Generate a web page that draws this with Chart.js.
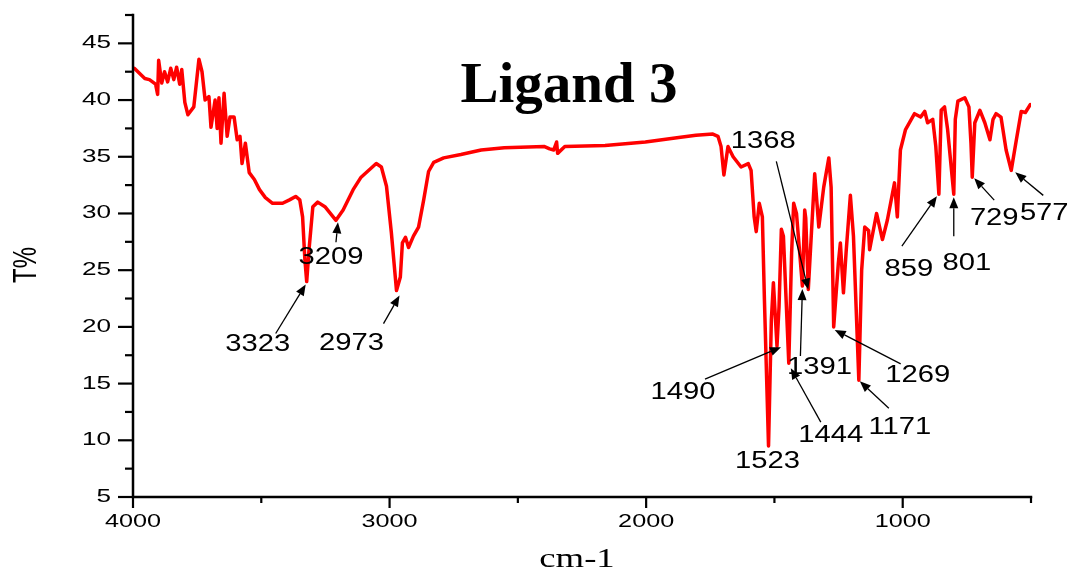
<!DOCTYPE html>
<html lang="en">

<head>
  <meta charset="UTF-8" />
  <title>Ligand 3 IR</title>
  <script src="https://cdn.jsdelivr.net/npm/chart.js@4.4.0/dist/chart.umd.min.js"></script>
  <style>
    html, body { margin: 0; padding: 0; background: #fff; }
    #wrap { width: 1075px; height: 575px; position: relative; }
  </style>
</head>

<body>
  <div id="wrap"><canvas id="irChart"></canvas></div>

  <script>
    // spectrum (cm-1 and T%)
    const wavenumber = [
      3995, 3954, 3936, 3912, 3904, 3900, 3888, 3877, 3865, 3853, 3841, 3830, 3818, 3810,
      3798, 3786, 3763, 3743, 3731, 3719, 3704, 3696, 3680, 3672, 3665, 3657, 3645, 3633,
      3622, 3606, 3594, 3583, 3575, 3562, 3547, 3527, 3507, 3484, 3456, 3417, 3390, 3366,
      3350, 3339, 3330, 3323, 3314, 3299, 3280, 3252, 3209, 3181, 3142, 3111, 3052, 3032,
      3012, 2993, 2973, 2958, 2950, 2938, 2926, 2907, 2887, 2867, 2848, 2828, 2789, 2722,
      2643, 2553, 2396, 2376, 2360, 2349, 2345, 2317, 2160, 2003, 1873, 1806, 1740, 1720,
      1708, 1697, 1681, 1661, 1630, 1602, 1591, 1579, 1571, 1559, 1547, 1539, 1523, 1512,
      1504, 1490, 1482, 1473, 1465, 1444, 1433, 1425, 1414, 1391, 1382, 1378, 1368, 1343,
      1327, 1308, 1288, 1279, 1269, 1251, 1243, 1231, 1220, 1204, 1192, 1171, 1160, 1148,
      1133, 1129, 1102, 1079, 1060, 1032, 1021, 1009, 989, 954, 930, 914, 903, 883,
      871, 859, 850, 837, 825, 801, 795, 785, 758, 742, 734, 729, 719, 699,
      680, 660, 648, 636, 617, 597, 577, 557, 538, 522, 503
    ];
    const transmittance = [
      42.8, 41.9, 41.8, 41.4, 40.5, 43.5, 41.5, 42.5, 41.6, 42.8, 41.8, 42.9, 41.4, 42.7,
      39.8, 38.7, 39.4, 43.6, 42.5, 40.0, 40.3, 37.6, 40.0, 37.5, 40.2, 36.2, 40.6, 36.8,
      38.5, 38.5, 36.5, 36.8, 34.4, 36.2, 33.6, 33.0, 32.1, 31.4, 30.9, 30.9, 31.2, 31.5,
      31.2, 29.7, 25.9, 24.0, 26.8, 30.6, 31.0, 30.6, 29.4, 30.3, 32.1, 33.2, 34.4, 34.1,
      32.4, 28.3, 23.2, 24.4, 27.4, 27.9, 27.0, 28.0, 28.8, 31.2, 33.7, 34.5, 34.9, 35.2,
      35.6, 35.8, 35.9, 35.7, 35.6, 36.3, 35.3, 35.9, 36.0, 36.3, 36.7, 36.9, 37.0, 36.8,
      35.9, 33.4, 35.9, 35.0, 34.1, 34.4, 33.8, 29.7, 28.4, 30.9, 29.7, 22.4, 9.5, 20.6,
      23.9, 18.3, 21.8, 28.6, 28.0, 16.8, 26.5, 30.9, 30.0, 23.6, 30.3, 29.6, 23.3, 33.5,
      28.8, 32.3, 34.9, 32.3, 20.0, 25.6, 27.4, 23.0, 26.8, 31.6, 28.0, 15.3, 25.0, 28.8,
      28.5, 26.8, 30.0, 27.7, 29.4, 32.7, 29.7, 35.6, 37.4, 38.8, 38.5, 39.0, 38.0, 38.3,
      35.9, 31.7, 39.1, 39.4, 37.4, 31.7, 38.3, 39.9, 40.2, 39.4, 36.2, 33.2, 38.0, 39.1,
      38.0, 36.5, 38.3, 38.8, 38.5, 35.6, 33.8, 36.5, 39.0, 38.9, 39.6
    ];

    // marked bands
    const peakWn = [3323, 3209, 2973, 1523, 1490, 1444, 1391, 1368, 1269, 1171, 859, 801, 729, 577];

    // axis ticks
    const xMajorTicks = [4000, 3000, 2000, 1000];
    const xMinorTicks = [3500, 2500, 1500, 500];
    const yMajorTicks = [5, 10, 15, 20, 25, 30, 35, 40, 45];
    const yMinorTicks = [7.5, 12.5, 17.5, 22.5, 27.5, 32.5, 37.5, 42.5, 47.5];

    // callout layout, px from the band point: [tipDx, tipDy, tailDx, tailDy, textDx, textDy]
    const calloutLayout = {
      3323: [-1, 3, -31, 52, -49, 63],
      3209: [2, 2, 0, 22, -5, 37],
      2973: [3, 5, -13, 33, -45, 53],
      1523: [null, null, null, null, -1, 16],
      1490: [4, 1, -72, 33, -94, 46],
      1444: [2, 5, 32, 59, 42, 72],
      1391: [0, 3, -2, 70, 17, 82],
      1368: [0, 0, -32, -128, -45, -148],
      1269: [1, 3, 67, 37, 84, 49],
      1171: [1, 1, 30, 28, 41, 47],
      859: [-2, 2, -37, 52, -30, 75],
      801: [0, 3, 0, 42, 13, 69],
      729: [2, 1, 22, 23, 22, 41],
      577: [4, 2, 32, 25, 33, 43]
    };

    const points = wavenumber.map((w, i) => ({ x: w, y: transmittance[i] }));

    // text stretched sideways
    function wideText(ctx, text, x, y, font, align, sx, rot) {
      ctx.save();
      ctx.font = font;
      ctx.fillStyle = "#000";
      ctx.textAlign = align;
      ctx.textBaseline = "middle";
      ctx.translate(x, y);
      if (rot) {
        ctx.rotate(rot);
        ctx.scale(1, sx);
      } else {
        ctx.scale(sx, 1);
      }
      ctx.fillText(text, 0, 0);
      ctx.restore();
    }

    function arrow(ctx, x0, y0, x1, y1) {
      const a = Math.atan2(y1 - y0, x1 - x0);
      const len = 11, half = 4.5;
      const bx = x1 - Math.cos(a) * len, by = y1 - Math.sin(a) * len;
      ctx.save();
      ctx.strokeStyle = "#000";
      ctx.fillStyle = "#000";
      ctx.lineWidth = 1.3;
      ctx.beginPath();
      ctx.moveTo(x0, y0);
      ctx.lineTo(bx, by);
      ctx.stroke();
      ctx.beginPath();
      ctx.moveTo(x1, y1);
      ctx.lineTo(bx + Math.sin(a) * half, by - Math.cos(a) * half);
      ctx.lineTo(bx - Math.sin(a) * half, by + Math.cos(a) * half);
      ctx.closePath();
      ctx.fill();
      ctx.restore();
    }

    const irOverlay = {
      id: "irOverlay",
      afterDatasetsDraw(chart) {
        const ctx = chart.ctx;
        const xs = chart.scales.x, ys = chart.scales.y;
        peakWn.forEach((wn) => {
          const t = transmittance[wavenumber.indexOf(wn)];
          const px = xs.getPixelForValue(wn), py = ys.getPixelForValue(t);
          const L = calloutLayout[wn];
          if (L[0] !== null) {
            arrow(ctx, px + L[2], py + L[3], px + L[0], py + L[1]);
          }
          wideText(ctx, String(wn), px + L[4], py + L[5], "23px 'Liberation Sans', Arial, sans-serif", "center", 1.27);
        });
      },
      afterDraw(chart) {
        const ctx = chart.ctx;
        const area = chart.chartArea;
        const xs = chart.scales.x, ys = chart.scales.y;
        ctx.save();
        ctx.strokeStyle = "#000";
        ctx.lineWidth = 2.5;
        ctx.lineCap = "square";
        // axis lines
        ctx.beginPath();
        ctx.moveTo(area.left, area.top);
        ctx.lineTo(area.left, area.bottom);
        ctx.lineTo(area.right, area.bottom);
        ctx.stroke();
        ctx.lineCap = "butt";
        ctx.lineWidth = 2.2;
        // y ticks
        yMajorTicks.concat(yMinorTicks).forEach((v) => {
          const y = ys.getPixelForValue(v);
          const len = yMajorTicks.includes(v) ? 15 : 8;
          ctx.beginPath();
          ctx.moveTo(area.left - len, y);
          ctx.lineTo(area.left, y);
          ctx.stroke();
        });
        // x ticks
        xMajorTicks.concat(xMinorTicks).forEach((v) => {
          const x = xs.getPixelForValue(v);
          const len = xMajorTicks.includes(v) ? 11 : 6;
          ctx.beginPath();
          ctx.moveTo(x, area.bottom);
          ctx.lineTo(x, area.bottom + len);
          ctx.stroke();
        });
        ctx.restore();

        const tickFont = "18px 'Liberation Sans', Arial, sans-serif";
        yMajorTicks.forEach((v) => {
          wideText(ctx, String(v), area.left - 22, ys.getPixelForValue(v), tickFont, "right", 1.45);
        });
        xMajorTicks.forEach((v) => {
          wideText(ctx, String(v), xs.getPixelForValue(v), area.bottom + 25, tickFont, "center", 1.4);
        });

        // axis titles
        wideText(ctx, "cm-1", 577, 560, "27px 'Liberation Serif', 'Times New Roman', serif", "center", 1.36);
        wideText(ctx, "T%", 27, 265, "24px 'Liberation Sans', Arial, sans-serif", "center", 1.35, -Math.PI / 2);

        // chart title
        ctx.save();
        ctx.font = "bold 57px 'Liberation Serif', 'Times New Roman', serif";
        ctx.fillStyle = "#000";
        ctx.textAlign = "center";
        ctx.textBaseline = "alphabetic";
        ctx.fillText("Ligand 3", 569, 102);
        ctx.restore();
      }
    };

    const irChart = new Chart(document.getElementById("irChart").getContext("2d"), {
      type: "line",
      data: {
        datasets: [
          {
            label: "Ligand 3",
            data: points,
            borderColor: "#ff0000",
            borderWidth: 3.5,
            borderJoinStyle: "round",
            borderCapStyle: "round",
            pointRadius: 0,
            tension: 0,
            fill: false,
          },
        ],
      },
      options: {
        responsive: true,
        maintainAspectRatio: false,
        animation: false,
        layout: { padding: { left: 133, right: 44, top: 15, bottom: 78 } },
        plugins: { legend: { display: false }, tooltip: { enabled: false } },
        scales: {
          x: { type: "linear", reverse: true, min: 500, max: 4000, display: false },
          y: { type: "linear", min: 5, max: 47.5, display: false },
        },
      },
      plugins: [irOverlay],
    });
  </script>
</body>

</html>
